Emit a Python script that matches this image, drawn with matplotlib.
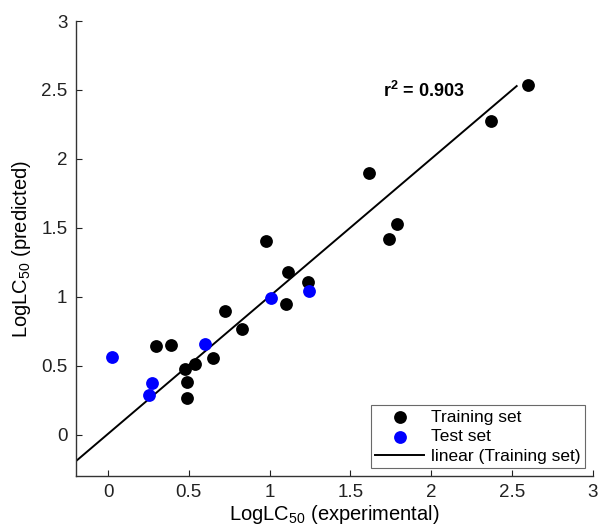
import numpy as np
import matplotlib
matplotlib.use("Agg")
from matplotlib import pyplot as plt

plt.rcParams['font.family'] = ['Liberation Sans', 'DejaVu Sans']
plt.rcParams['mathtext.fontset'] = 'custom'
plt.rcParams['mathtext.rm'] = 'Liberation Sans'
plt.rcParams['mathtext.it'] = 'Liberation Sans:italic'
plt.rcParams['mathtext.bf'] = 'Liberation Sans:bold'

# training set (black)
train_x = [0.298, 0.387, 0.479, 0.488, 0.488, 0.539, 0.650, 0.726, 0.828, 0.975,
           1.099, 1.117, 1.239, 1.613, 1.741, 1.792, 2.372, 2.603]
train_y = [0.640, 0.647, 0.476, 0.384, 0.268, 0.512, 0.553, 0.894, 0.765, 1.403,
           0.947, 1.179, 1.104, 1.901, 1.418, 1.527, 2.275, 2.534]

# test set (blue)
test_x = [0.027, 0.255, 0.270, 0.599, 1.008, 1.247]
test_y = [0.563, 0.290, 0.377, 0.654, 0.993, 1.043]

# linear fit on training set
slope = 0.997
intercept = 0.006
fit_x = [-0.2, 2.53]
r2_text = 'r$^{\\mathbf{2}}$ = 0.903'

xticks = [0, 0.5, 1, 1.5, 2, 2.5, 3]
yticks = [0, 0.5, 1, 1.5, 2, 2.5, 3]
ticklabels = ['0', '0.5', '1', '1.5', '2', '2.5', '3']

fig = plt.figure(figsize=(6.01, 5.26), dpi=100)
ax = fig.add_axes([0.126, 0.095, 0.860, 0.865])

fx = np.array(fit_x)
ax.plot(fx, slope * fx + intercept, color='black', lw=1.4, label='linear (Training set)', zorder=2)
ax.scatter(train_x, train_y, s=85, color='black', label='Training set', zorder=3, linewidths=0)
ax.scatter(test_x, test_y, s=85, color='#0000ff', label='Test set', zorder=3, linewidths=0)

ax.text(1.70, 2.49, r2_text, fontsize=13, fontweight='bold', va='center', ha='left')

ax.set_xlim(-0.2, 3)
ax.set_ylim(-0.3, 3)
ax.set_xticks(xticks)
ax.set_yticks(yticks)
ax.set_xticklabels(ticklabels)
ax.set_yticklabels(ticklabels)
ax.tick_params(direction='in', length=4, labelsize=13.5, colors='#222222', pad=6)
for s in ['top', 'right']:
    ax.spines[s].set_visible(False)
for s in ['left', 'bottom']:
    ax.spines[s].set_color('#333333')
    ax.spines[s].set_linewidth(1.0)

ax.set_xlabel('LogLC$_{50}$ (experimental)', fontsize=14.5, labelpad=1)
ax.set_ylabel('LogLC$_{50}$ (predicted)', fontsize=14.5, labelpad=6)

h, l = ax.get_legend_handles_labels()
order = [1, 2, 0]
leg = ax.legend([h[i] for i in order], [l[i] for i in order], loc='lower right',
                fontsize=12.5, frameon=True, fancybox=False, edgecolor='#444444',
                handlelength=2.8, handletextpad=0.4, labelspacing=0.25,
                borderpad=0.25, borderaxespad=0.45, scatterpoints=1)
leg.get_frame().set_linewidth(0.8)

fig.savefig('out.png', dpi=100)
